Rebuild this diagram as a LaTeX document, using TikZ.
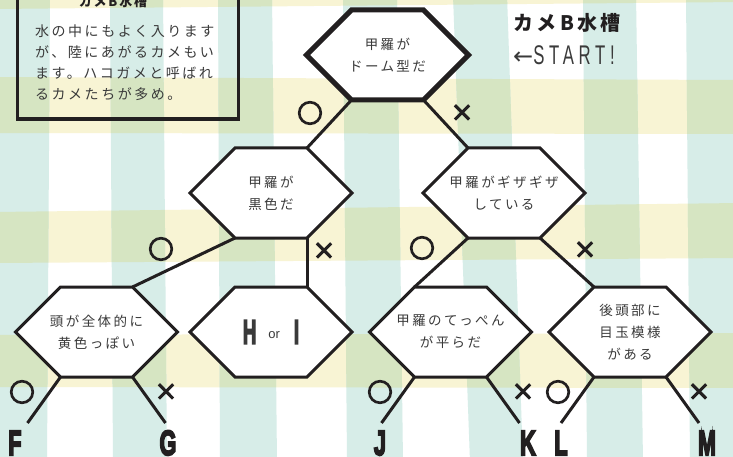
\documentclass[tikz,border=0pt]{standalone}
\usepackage{fontspec}
\setmainfont{Liberation Sans}
\newfontfamily\jp{Noto Sans CJK JP}
\newfontfamily\jpmark[FakeBold=7]{Noto Sans CJK JP}
\newfontfamily\jpsp[LetterSpace=18]{Noto Sans CJK JP}
\newfontfamily\jpti[LetterSpace=14]{Noto Sans CJK JP}
\newfontfamily\heavy[FakeBold=6]{Liberation Sans Bold}
\newfontfamily\dv{DejaVu Sans}
\usetikzlibrary{calc}
\definecolor{teal0}{RGB}{215,237,232}
\definecolor{yel0}{RGB}{248,244,212}
\definecolor{grn0}{RGB}{214,229,194}
\definecolor{ink}{RGB}{34,31,32}
\definecolor{txt}{RGB}{58,58,58}
\newcommand\cond[2][0.62]{\scalebox{#1}[1]{#2}}
\tikzset{
  hexline/.style={draw=ink, fill=white, line join=miter},
  hextext/.style={align=center, text=txt, font=\jpsp\fontsize{13.5}{22}\selectfont, inner sep=0pt},
  conn/.style={draw=ink, line width=3pt},
  yes/.style={text=ink, font=\jpmark\fontsize{25}{25}\selectfont, inner sep=0pt},
  no/.style={text=ink, font=\jpmark\fontsize{22}{22}\selectfont, inner sep=0pt},
  leaf/.style={anchor=base, text=ink, font=\heavy\fontsize{35}{35}\selectfont, inner sep=0pt},
  bodyline/.style={anchor=base west, text=txt, font=\jpsp\fontsize{14}{21}\selectfont, inner sep=0pt},
}
\newcommand\hexa[5][3pt]{%
  \path (#3,#4) coordinate (#2-c)
    ++(-81,0) coordinate (#2-l)
    ++(45,-45) coordinate (#2-tl)
    ++(72,0) coordinate (#2-tr)
    ++(45,45) coordinate (#2-r)
    ++(-45,45) coordinate (#2-br)
    ++(-72,0) coordinate (#2-bl);
  \draw[hexline, line width=#1] (#2-l) -- (#2-tl) -- (#2-tr) -- (#2-r) -- (#2-br) -- (#2-bl) -- cycle;
  \node[hextext] (#2) at (#2-c) {#5};
}
\begin{document}
\begin{tikzpicture}[x=1pt,y=-1pt]
\useasboundingbox (0,0) rectangle (733,457);
\clip (0,0) rectangle (733,457);
% background gingham
\fill[white] (0,0) rectangle (733,457);
\def\bands{(-5,-60) -- (740,-60) -- (740,2) -- (-5,9) -- cycle
  (-5,77) -- (740,80) -- (740,134) -- (-5,133) -- cycle
  (-5,212) -- (740,203) -- (740,258) -- (-5,263) -- cycle
  (-5,335) -- (740,333) -- (740,388) -- (-5,387) -- cycle}
\fill[yel0] \bands;
\def\stripes{(-5,-5) -- (50,-5) -- (47,462) -- (-5,462) -- cycle
  (110,-5) -- (163,-5) -- (167,462) -- (113,462) -- cycle
  (218,-5) -- (272,-5) -- (277,462) -- (220,462) -- cycle
  (343,-5) -- (397,-5) -- (403,462) -- (347,462) -- cycle
  (453,-5) -- (507,-5) -- (523,462) -- (470,462) -- cycle
  (583,-5) -- (636,-5) -- (643,462) -- (587,462) -- cycle
  (686,-5) -- (740,-5) -- (740,462) -- (690,462) -- cycle}
\fill[teal0] \stripes;
\begin{scope}
  \clip \bands;
  \fill[grn0] \stripes;
\end{scope}
% info box
\draw[ink, line width=3.5pt] (17.5,-20) rectangle (238.5,119);
\node[text=ink, font=\jpti\bfseries\fontsize{13}{13}\selectfont, inner sep=0pt] (boxtitle) at (113,1.5) {カメB水槽};
\node[bodyline] (b1) at (35,37) {水の中にもよく入ります};
\node[bodyline] (b2) at (35,57.5) {が、陸にあがるカメもい};
\node[bodyline] (b3) at (35,78.5) {ます。ハコガメと呼ばれ};
\node[bodyline] (b4) at (35,99.5) {るカメたちが多め。};
% title
\node[text=ink, font=\jpti\bfseries\fontsize{20}{20}\selectfont, inner sep=0pt] (title) at (567,23) {カメ\,B\,水槽};
\node[text=txt, inner sep=0pt] (start) at (564,55) {{\dv\fontsize{24}{24}\selectfont ←}\cond[0.62]{\fontsize{27}{27}\selectfont\addfontfeatures{LetterSpace=28}START!}};
% hexagons
\hexa[5pt]{top}{387.5}{55}{甲羅が\\ドーム型だ}
\hexa{hL}{271}{193}{甲羅が\\黒色だ}
\hexa{hR}{504}{193}{甲羅がギザギザ\\している}
\hexa{ha}{96.5}{332}{頭が全体的に\\黄色っぽい}
\hexa{hb}{271}{332}{{\heavy\fontsize{34}{34}\selectfont\cond[0.55]{H}}\hspace{12pt}\raisebox{5pt}{\rmfamily\fontsize{13}{13}\selectfont or}\hspace{14pt}{\heavy\fontsize{34}{34}\selectfont\cond[0.55]{I}}}
\hexa{hc}{450.5}{332}{甲羅のてっぺん\\が平らだ}
\hexa{hd}{630}{332}{後頭部に\\目玉模様\\がある}
% connectors
\draw[conn] (top-bl) -- (hL-tr);
\draw[conn] (top-br) -- (hR-tl);
\draw[conn] (hL-bl) -- (ha-tr);
\draw[conn] (hL-br) -- (hb-tr);
\draw[conn] (hR-bl) -- (hc-tl);
\draw[conn] (hR-br) -- (hd-tl);
\foreach \h/\a/\b in {ha/pF/pG, hc/pJ/pK, hd/pL/pM}{
  \coordinate (\a) at ($(\h-bl)+(-33,46)$);
  \coordinate (\b) at ($(\h-br)+(33,46)$);
  \draw[conn] (\h-bl) -- (\a);
  \draw[conn] (\h-br) -- (\b);
}
% leaves
\node[leaf] (F) at (15,455) {\cond{F}};
\node[leaf] (G) at (168,455) {\cond{G}};
\node[leaf] (J) at (380,455) {\cond{J}};
\node[leaf] (K) at (528,455) {\cond{K}};
\node[leaf] (L) at (561,455) {\cond{L}};
\node[leaf] (M) at (707,455) {\cond{M}};
% yes / no marks
\node[yes] (y1) at (310,113) {○};
\node[no] (n1) at (462,113) {×};
\node[yes] (y2) at (161,249) {○};
\node[no] (n2) at (324,251) {×};
\node[yes] (y3) at (422,248) {○};
\node[no] (n3) at (585,250) {×};
\node[yes] (y4) at (22,392) {○};
\node[no] (n4) at (166,392) {×};
\node[yes] (y5) at (380,392) {○};
\node[no] (n5) at (523,392) {×};
\node[yes] (y6) at (558,392) {○};
\node[no] (n6) at (699,392) {×};
\end{tikzpicture}
\end{document}
